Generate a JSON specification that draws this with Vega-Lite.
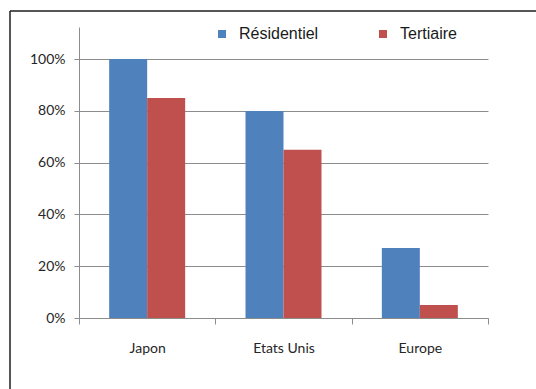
{
  "$schema": "https://vega.github.io/schema/vega-lite/v6.json",
  "width": 526,
  "height": 378,
  "autosize": {"type": "none"},
  "padding": {"left": 10, "top": 11, "right": 0, "bottom": 0},
  "background": "white",
  "data": {
    "values": [
      {"pays": "Japon", "secteur": "Résidentiel", "part": 1.0},
      {"pays": "Japon", "secteur": "Tertiaire", "part": 0.85},
      {"pays": "Etats Unis", "secteur": "Résidentiel", "part": 0.8},
      {"pays": "Etats Unis", "secteur": "Tertiaire", "part": 0.65},
      {"pays": "Europe", "secteur": "Résidentiel", "part": 0.27},
      {"pays": "Europe", "secteur": "Tertiaire", "part": 0.05}
    ]
  },
  "mark": {"type": "bar"},
  "encoding": {
    "x": {
      "field": "pays",
      "type": "nominal",
      "sort": ["Japon", "Etats Unis", "Europe"],
      "scale": {"range": [69, 478], "paddingInner": 0, "paddingOuter": 0},
      "axis": {
        "title": null,
        "labelAngle": 0,
        "offset": -71,
        "tickBand": "extent",
        "tickSize": 6,
        "tickColor": "#8c8c8c",
        "domainColor": "#8c8c8c",
        "labelPadding": 17,
        "labelFont": "Lato",
        "labelFontSize": 14,
        "labelColor": "#262626",
        "grid": false
      }
    },
    "xOffset": {
      "field": "secteur",
      "scale": {"paddingInner": 0, "paddingOuter": 0.794}
    },
    "y": {
      "field": "part",
      "type": "quantitative",
      "scale": {"domain": [0, 1.124], "range": [307, 16], "nice": false, "zero": true},
      "axis": {
        "title": null,
        "values": [0, 0.2, 0.4, 0.6, 0.8, 1],
        "format": ".0%",
        "offset": -69,
        "grid": true,
        "gridColor": "#8c8c8c",
        "domainColor": "#8c8c8c",
        "tickColor": "#8c8c8c",
        "tickSize": 5,
        "labelPadding": 9,
        "labelFont": "Lato",
        "labelFontSize": 14,
        "labelColor": "#262626"
      }
    },
    "color": {
      "field": "secteur",
      "type": "nominal",
      "scale": {"domain": ["Résidentiel", "Tertiaire"], "range": ["#4F81BD", "#C0504D"]},
      "legend": {
        "title": null,
        "orient": "none",
        "legendX": 204,
        "legendY": 15,
        "direction": "horizontal",
        "symbolType": "square",
        "symbolSize": 64,
        "symbolStrokeWidth": 0,
        "labelFont": "Liberation Sans",
        "labelFontSize": 16,
        "labelColor": "#1a1a1a",
        "labelOffset": 9,
        "columnPadding": 56,
        "padding": 0
      }
    }
  },
  "config": {
    "view": {"stroke": "#1f1f1f", "strokeWidth": 1.5, "strokeDash": [526, 904, 378, 0]}
  }
}
